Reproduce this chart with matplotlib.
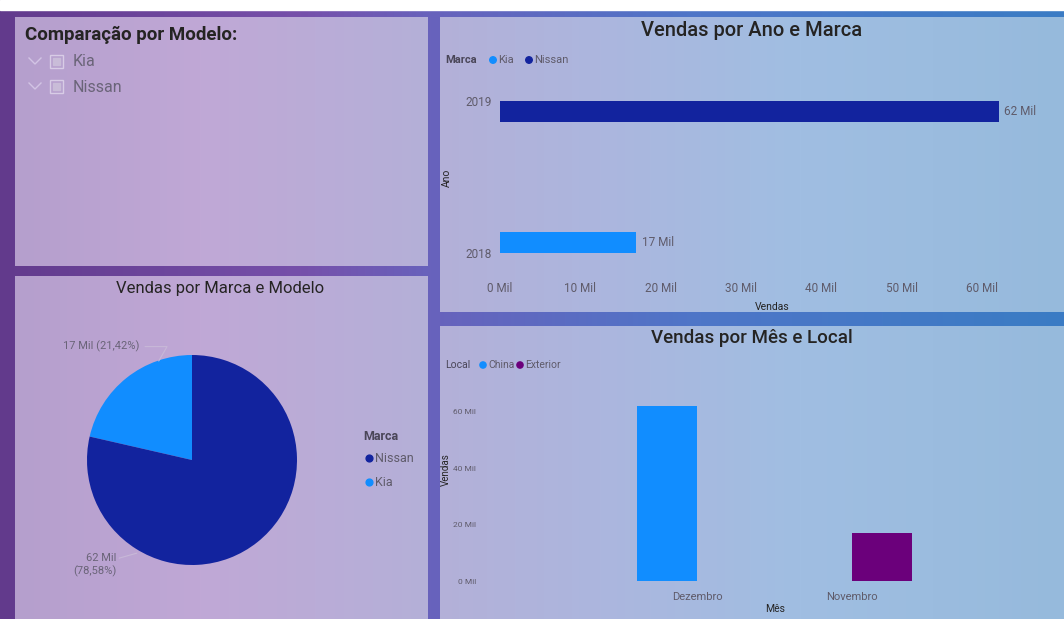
import numpy as np
import matplotlib.pyplot as plt

# dados (vendas em milhares)
marcas = ['Kia', 'Nissan']
vendas_marca = [16.92, 62.08]
cores_marca = ['#118DFF', '#12239E']

anos = ['2019', '2018']
vendas_ano_kia = [0, 16.92]
vendas_ano_nissan = [62.08, 0]
ticks_vendas = [0, 10, 20, 30, 40, 50, 60]

meses = ['Dezembro', 'Novembro']
locais = ['China', 'Exterior']
vendas_mes_china = [62.08, 0]
vendas_mes_exterior = [0, 16.92]
ticks_mes = [0, 20, 40, 60]
cores_local = ['#118DFF', '#6B007B']

slicer_itens = ['Kia', 'Nissan']

W, H = 1064, 619
plt.rcParams['font.family'] = ['Roboto', 'DejaVu Sans']
fig = plt.figure(figsize=(W / 100, H / 100), dpi=100)


def box(x0, y0, x1, y1):
    return [x0 / W, 1 - y1 / H, (x1 - x0) / W, (y1 - y0) / H]


def gradient(stops):
    xs = np.arange(W)
    px = [s[0] for s in stops]
    img = np.zeros((1, W, 3))
    for c in range(3):
        img[0, :, c] = np.interp(xs, px, [s[1][c] / 255 for s in stops])
    return img


# fundo
bg = fig.add_axes([0, 0, 1, 1])
bg.set_xlim(0, W)
bg.set_ylim(H, 0)
bg.axis('off')

frame = gradient([(0, (98, 58, 140)), (300, (118, 80, 170)), (430, (104, 98, 188)),
                  (700, (78, 118, 200)), (1064, (58, 124, 196))])
bg.imshow(frame, extent=(0, W, H, 0), aspect='auto', zorder=0)
bg.add_patch(plt.Rectangle((0, 0), W, 10, color='white', zorder=1))

panel = gradient([(0, (180, 158, 204)), (200, (192, 168, 214)), (430, (180, 176, 216)),
                  (600, (172, 182, 222)), (800, (160, 190, 226)), (1064, (150, 186, 220))])
paineis = [(15, 17, 428, 266), (15, 276, 428, 619), (440, 17, 1064, 312), (440, 326, 1064, 619)]
for x0, y0, x1, y1 in paineis:
    sub = panel[:, x0:x1, :]
    bg.imshow(sub, extent=(x0, x1, y1, y0), aspect='auto', zorder=2)
bg.set_xlim(0, W)
bg.set_ylim(H, 0)

dark = '#252423'
gray = '#5f5b6a'

# slicer
bg.text(25, 35, 'Comparação por Modelo:', fontsize=13.5, fontweight='bold', color=dark,
        va='center', zorder=5)
for i, item in enumerate(slicer_itens):
    y = 62 + i * 25
    bg.plot([29, 35, 41], [y - 4, y + 2, y - 4], color='#d2c4e4', lw=1, zorder=5)
    bg.add_patch(plt.Rectangle((50, y - 7), 13, 13, fill=False, ec='#d8cce6', lw=1, zorder=5))
    bg.add_patch(plt.Rectangle((53, y - 4), 7, 7, color='#c9bcd8', zorder=5))
    bg.text(73, y, item, fontsize=11.5, color='#6a6478', va='center', zorder=5)

# barras por ano
bg.text(752, 30, 'Vendas por Ano e Marca', fontsize=14.5, fontweight='medium', color=dark,
        ha='center', va='center', zorder=5)
bg.text(445, 60, 'Marca', fontsize=8, fontweight='bold', color='#4a4658', va='center', zorder=5)
bg.scatter([493, 529], [60, 60], s=22, color=cores_marca, zorder=5)
bg.text(498, 60, 'Kia', fontsize=8, color=gray, va='center', zorder=5)
bg.text(534, 60, 'Nissan', fontsize=8, color=gray, va='center', zorder=5)

ax1 = fig.add_axes(box(500, 85, 1000, 270))
ax1.patch.set_alpha(0)
h = 21 / 152
yy = np.arange(len(anos))
ax1.barh(yy - h / 2, vendas_ano_kia, height=h, color=cores_marca[0])
ax1.barh(yy + h / 2, vendas_ano_nissan, height=h, color=cores_marca[1])
for i in range(len(anos)):
    if vendas_ano_kia[i]:
        ax1.text(vendas_ano_kia[i] + 0.7, yy[i] - h / 2, f'{round(vendas_ano_kia[i])} Mil',
                 fontsize=8.5, color=gray, va='center', clip_on=False)
    if vendas_ano_nissan[i]:
        ax1.text(vendas_ano_nissan[i] + 0.6, yy[i] + h / 2, f'{round(vendas_ano_nissan[i])} Mil',
                 fontsize=8.5, color=gray, va='center', clip_on=False)
ax1.set_xlim(0, 62.24)
ax1.set_ylim(1 + 17 / 152, -16 / 152)
ax1.set_yticks(yy)
ax1.set_yticklabels(anos)
ax1.set_xticks(ticks_vendas)
ax1.set_xticklabels([f'{v} Mil' for v in ticks_vendas])
ax1.tick_params(length=0, labelsize=8.5, labelcolor=gray)
ax1.tick_params(axis='x', pad=9)
ax1.tick_params(axis='y', pad=6)
for s in ax1.spines.values():
    s.set_visible(False)
ax1.set_xlabel('Vendas', fontsize=7.5, color=dark)
ax1.xaxis.set_label_coords((772 - 500) / 500, -(302 - 270) / 185)
ax1.set_ylabel('Ano', fontsize=7.5, color=dark)
ax1.yaxis.set_label_coords(-(500 - 452) / 500, (270 - 178) / 185)

# pizza
bg.text(220, 288, 'Vendas por Marca e Modelo', fontsize=12, color=dark, ha='center',
        va='center', zorder=5)
ax2 = fig.add_axes(box(87, 355, 297, 565))
ax2.patch.set_alpha(0)
wedges, _ = ax2.pie(vendas_marca, colors=cores_marca, startangle=90, counterclock=True,
                    radius=1)
ax2.set_xlim(-1, 1)
ax2.set_ylim(-1, 1)
total = sum(vendas_marca)
pct = [f'{v / total * 100:.2f}'.replace('.', ',') for v in vendas_marca]
ax2.annotate(f'{round(vendas_marca[0])} Mil ({pct[0]}%)', xy=(-0.33, 0.92), xytext=(-0.5, 1.08),
             fontsize=8, color='#6a6478', ha='right', va='center', annotation_clip=False,
             arrowprops=dict(arrowstyle='-', color='#c8b8d8', lw=0.8,
                             connectionstyle='angle,angleA=0,angleB=60,rad=0'))
ax2.annotate(f'{round(vendas_marca[1])} Mil\n({pct[1]}%)', xy=(-0.5, -0.88), xytext=(-0.72, -1.0),
             fontsize=8, color='#6a6478', ha='right', va='center', annotation_clip=False,
             multialignment='right',
             arrowprops=dict(arrowstyle='-', color='#c8b8d8', lw=0.8, shrinkA=20))
bg.text(363, 436, 'Marca', fontsize=9, fontweight='bold', color='#4a4658', va='center', zorder=5)
ordem = [1, 0]
for k, i in enumerate(ordem):
    y = 458 + k * 24
    bg.scatter([369], [y], s=24, color=cores_marca[i], zorder=5)
    bg.text(375, y, marcas[i], fontsize=9, color=gray, va='center', zorder=5)

# barras por mes
bg.text(752, 338, 'Vendas por Mês e Local', fontsize=13.5, fontweight='medium', color=dark,
        ha='center', va='center', zorder=5)
bg.text(445, 365, 'Local', fontsize=7.5, color='#4a4658', va='center', zorder=5)
bg.scatter([483, 520], [365, 365], s=20, color=cores_local, zorder=5)
bg.text(488, 365, locais[0], fontsize=7.5, color=gray, va='center', zorder=5)
bg.text(525, 365, locais[1], fontsize=7.5, color=gray, va='center', zorder=5)

ax3 = fig.add_axes(box(480, 395, 1050, 581))
ax3.patch.set_alpha(0)
w = 60 / 155
xx = np.arange(len(meses))
ax3.bar(xx - w / 2, vendas_mes_china, width=w, color=cores_local[0])
ax3.bar(xx + w / 2, vendas_mes_exterior, width=w, color=cores_local[1])
ax3.set_xlim(-217 / 155, 1 + 198 / 155)
ax3.set_ylim(0, 66)
ax3.set_xticks(xx)
ax3.set_xticklabels(meses)
ax3.set_yticks(ticks_mes)
ax3.set_yticklabels([f'{v} Mil' for v in ticks_mes])
ax3.tick_params(length=0, labelcolor=gray)
ax3.tick_params(axis='x', labelsize=8, pad=8)
ax3.tick_params(axis='y', labelsize=6, pad=3)
for s in ax3.spines.values():
    s.set_visible(False)
ax3.set_xlabel('Mês', fontsize=7.5, color=dark)
ax3.xaxis.set_label_coords((775 - 480) / 570, -(609 - 581) / 186)
ax3.xaxis.label.set_va('center')
ax3.set_ylabel('Vendas', fontsize=7, color=dark)
ax3.yaxis.set_label_coords(-(480 - 446) / 570, (581 - 470) / 186)
ax3.yaxis.label.set_va('center')

fig.savefig('out.png', dpi=100)
